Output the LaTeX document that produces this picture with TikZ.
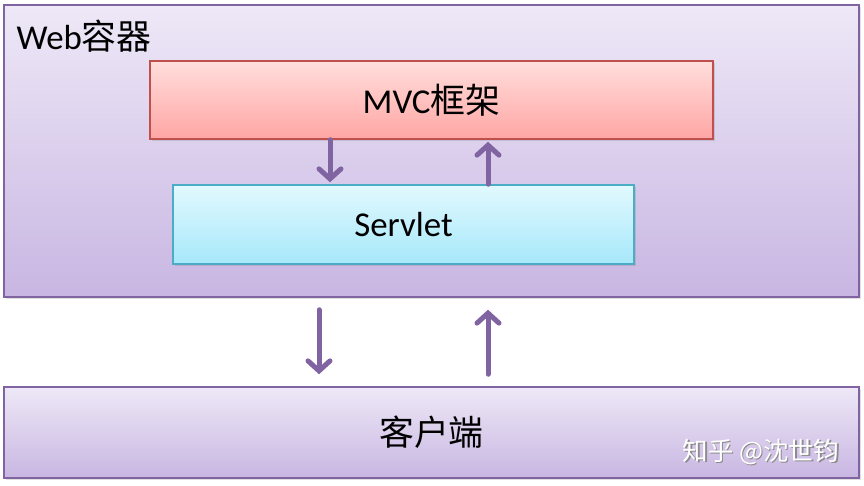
\documentclass[tikz,border=0pt]{standalone}
\usepackage{fontspec}
\setmainfont{Carlito}
\newfontfamily\cjk{Noto Sans CJK SC}
\usetikzlibrary{arrows.meta,shadows}
\definecolor{purp}{HTML}{8064A2}
\definecolor{wtop}{HTML}{EEE8F7}
\definecolor{wbot}{HTML}{C8B6E2}
\definecolor{rtop}{HTML}{FFDEDC}
\definecolor{rbot}{HTML}{FFA6A4}
\definecolor{redb}{HTML}{C0504D}
\definecolor{ctop}{HTML}{E2F9FF}
\definecolor{cbot}{HTML}{A6E8FA}
\definecolor{cyanb}{HTML}{4BACC6}
\tikzset{
  box/.style={rectangle, inner sep=0pt, line width=1.5bp,
    drop shadow={shadow xshift=2bp, shadow yshift=-2bp, opacity=0.25}},
  webbox/.style={box, draw=purp, top color=wtop, bottom color=wbot},
  mvcbox/.style={box, draw=redb, top color=rtop, bottom color=rbot},
  srvbox/.style={box, draw=cyanb, top color=ctop, bottom color=cbot},
  arr/.style={draw=purp, line width=5bp, line cap=round,
    -{Straight Barb[length=10bp,width=22bp,line cap=round]}},
  lbl/.style={font=\fontsize{35}{40}\selectfont, text=black},
}
\begin{document}
\begin{tikzpicture}[x=1bp,y=-1bp]
\useasboundingbox (0,0) rectangle (864,486);
\fill[white] (0,0) rectangle (864,486);
\node[webbox, minimum width=855bp, minimum height=292bp] (web) at (431.5,151) {};
\node[webbox, minimum width=855bp, minimum height=91bp] (cli) at (431.5,432.5) {};
\node[mvcbox, minimum width=563bp, minimum height=78bp] (mvc) at (431.5,100) {};
\node[srvbox, minimum width=461bp, minimum height=79bp] (srv) at (403.5,224.5) {};
\node[lbl, anchor=west] (webl) at (13,36) {Web\cjk{容器}};
\node[lbl] (mvcl) at (mvc.center) {MVC\cjk{框架}};
\node[lbl] (srvl) at (srv.center) {Servlet};
\node[lbl, font=\cjk\fontsize{35}{40}\selectfont] (clil) at (cli.center) {客户端};
\node[font=\cjk\fontsize{25.5}{30}\selectfont, text=black!45] (wm0) at (762.5,453.5) {知乎 @沈世钧};
\node[font=\cjk\fontsize{25.5}{30}\selectfont, text=white] (wm) at (761,452) {知乎 @沈世钧};
\coordinate (a1) at (330,0);
\coordinate (a2) at (488,0);
\coordinate (b1) at (319,0);
\coordinate (b2) at (488,0);
\draw[arr, shorten >=2bp] (a1 |- mvc.south) -- (a1 |- srv.north);
\draw[arr, shorten >=2bp] (a2 |- srv.north) -- (a2 |- mvc.south);
\draw[arr, shorten <=12bp, shorten >=12bp] (b1 |- web.south) -- (b1 |- cli.north);
\draw[arr, shorten <=12bp, shorten >=12bp] (b2 |- cli.north) -- (b2 |- web.south);
\end{tikzpicture}
\end{document}
